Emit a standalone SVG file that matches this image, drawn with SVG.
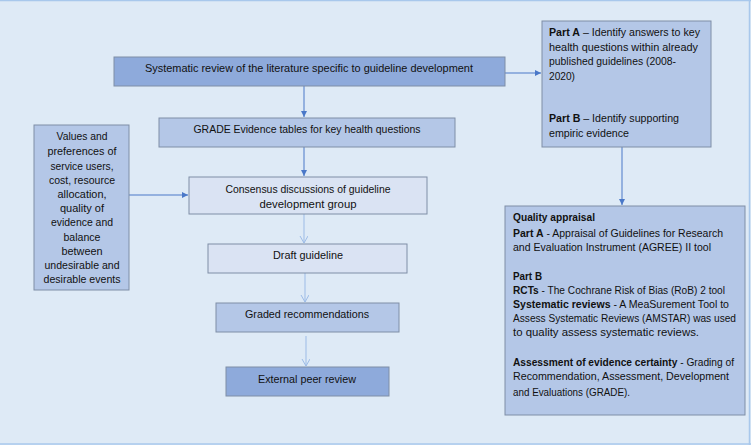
<svg xmlns="http://www.w3.org/2000/svg" width="751" height="445" viewBox="0 0 751 445">
<style>
.bg{fill:#deeaf6}
.box{stroke:#7f8ea6;stroke-width:1}
.dark{fill:#8eaadb}
.mid{fill:#b4c7e7}
.light{fill:#dae3f3}
text{font-family:"Liberation Sans",Arial,sans-serif;font-size:11.5px;fill:#111}
.c{text-anchor:middle}
.b{font-weight:bold}
.ln{stroke:#4a78c8;stroke-width:1;fill:none}
.lt{stroke:#9cbbe6;stroke-width:1;fill:none}
</style>
<defs>
<marker id="ah" markerWidth="8" markerHeight="8" refX="6" refY="3" orient="auto" markerUnits="userSpaceOnUse">
<path d="M0,0 L6,3 L0,6 Z" fill="#4a78c8"/>
</marker>
<marker id="av" markerWidth="10" markerHeight="10" refX="7" refY="4" orient="auto" markerUnits="userSpaceOnUse">
<path d="M0,0 L7,4 L0,8" fill="none" stroke="#9cbbe6" stroke-width="1"/>
</marker>
</defs>
<rect class="bg" x="0" y="0" width="751" height="445"/>
<line x1="0" y1="0.5" x2="751" y2="0.5" stroke="#a8c8ec" stroke-width="1.5"/>
<line x1="0" y1="444" x2="751" y2="444" stroke="#a8c8ec" stroke-width="1.5"/>
<line x1="749.5" y1="0" x2="749.5" y2="445" stroke="#a8c8ec" stroke-width="1.5"/>

<g id="connectors">
<line class="ln" x1="505" y1="73" x2="541" y2="73" marker-end="url(#ah)"/>
<line class="ln" x1="304" y1="86" x2="304" y2="117" marker-end="url(#ah)"/>
<line class="ln" x1="304" y1="147" x2="304" y2="176" marker-end="url(#ah)"/>
<line class="ln" x1="129" y1="195" x2="188" y2="195" marker-end="url(#ah)"/>
<line class="ln" x1="622" y1="147" x2="622" y2="205" marker-end="url(#ah)"/>
<line class="lt" x1="304" y1="214" x2="304" y2="243" marker-end="url(#av)"/>
<line class="lt" x1="305" y1="273" x2="305" y2="302" marker-end="url(#av)"/>
<line class="lt" x1="306" y1="336" x2="306" y2="366" marker-end="url(#av)"/>
</g>

<g id="systematic-review">
<rect class="box dark" x="114" y="57" width="391" height="29"/>
<text class="c" x="309" y="72" textLength="328" lengthAdjust="spacingAndGlyphs">Systematic review of the literature specific to guideline development</text>
</g>

<g id="grade-tables">
<rect class="box mid" x="159" y="118" width="296" height="29"/>
<text class="c" x="307" y="133" textLength="227" lengthAdjust="spacingAndGlyphs">GRADE Evidence tables for key health questions</text>
</g>

<g id="consensus">
<rect class="box light" x="189" y="177" width="238" height="37"/>
<text class="c" x="308" y="193" textLength="165" lengthAdjust="spacingAndGlyphs">Consensus discussions of guideline</text>
<text class="c" x="308" y="207.5" textLength="97" lengthAdjust="spacingAndGlyphs">development group</text>
</g>

<g id="values">
<rect class="box mid" x="34" y="125" width="95" height="165"/>
<text class="c" x="82" y="140" textLength="51" lengthAdjust="spacingAndGlyphs">Values and</text>
<text class="c" x="82" y="155" textLength="69" lengthAdjust="spacingAndGlyphs">preferences of</text>
<text class="c" x="82" y="169.5" textLength="63" lengthAdjust="spacingAndGlyphs">service users,</text>
<text class="c" x="82" y="184" textLength="66" lengthAdjust="spacingAndGlyphs">cost, resource</text>
<text class="c" x="82" y="198" textLength="49" lengthAdjust="spacingAndGlyphs">allocation,</text>
<text class="c" x="82" y="212" textLength="44" lengthAdjust="spacingAndGlyphs">quality of</text>
<text class="c" x="82" y="226" textLength="62" lengthAdjust="spacingAndGlyphs">evidence and</text>
<text class="c" x="82" y="240.5" textLength="37" lengthAdjust="spacingAndGlyphs">balance</text>
<text class="c" x="82" y="255" textLength="41" lengthAdjust="spacingAndGlyphs">between</text>
<text class="c" x="82" y="269" textLength="75" lengthAdjust="spacingAndGlyphs">undesirable and</text>
<text class="c" x="82" y="283" textLength="77" lengthAdjust="spacingAndGlyphs">desirable events</text>
</g>

<g id="draft">
<rect class="box light" x="208" y="244" width="199" height="29"/>
<text class="c" x="308" y="258.5" textLength="70" lengthAdjust="spacingAndGlyphs">Draft guideline</text>
</g>

<g id="graded">
<rect class="box mid" x="216" y="303" width="183" height="29"/>
<text class="c" x="307" y="318" textLength="124" lengthAdjust="spacingAndGlyphs">Graded recommendations</text>
</g>

<g id="external">
<rect class="box dark" x="226" y="367" width="163" height="29"/>
<text class="c" x="307" y="383" textLength="98" lengthAdjust="spacingAndGlyphs">External peer review</text>
</g>

<g id="part-ab">
<rect class="box mid" x="542" y="21" width="169" height="126"/>
<text x="549" y="36" textLength="151" lengthAdjust="spacingAndGlyphs"><tspan class="b">Part A</tspan> – Identify answers to key</text>
<text x="549" y="50.5" textLength="149" lengthAdjust="spacingAndGlyphs">health questions within already</text>
<text x="549" y="65" textLength="127" lengthAdjust="spacingAndGlyphs">published guidelines (2008-</text>
<text x="549" y="79.5" textLength="26" lengthAdjust="spacingAndGlyphs">2020)</text>
<text x="549" y="122" textLength="130" lengthAdjust="spacingAndGlyphs"><tspan class="b">Part B</tspan> – Identify supporting</text>
<text x="549" y="136.5" textLength="80" lengthAdjust="spacingAndGlyphs">empiric evidence</text>
</g>

<g id="quality">
<rect class="box mid" x="505" y="206" width="240" height="209"/>
<text x="513" y="221" class="b" textLength="82" lengthAdjust="spacingAndGlyphs">Quality appraisal</text>
<text x="513" y="237" textLength="210" lengthAdjust="spacingAndGlyphs"><tspan class="b">Part A</tspan> - Appraisal of Guidelines for Research</text>
<text x="513" y="251" textLength="198" lengthAdjust="spacingAndGlyphs">and Evaluation Instrument (AGREE) II tool</text>
<text x="513" y="280" class="b" textLength="29" lengthAdjust="spacingAndGlyphs">Part B</text>
<text x="513" y="294" textLength="212" lengthAdjust="spacingAndGlyphs"><tspan class="b">RCTs</tspan> - The Cochrane Risk of Bias (RoB) 2 tool</text>
<text x="513" y="308" textLength="216" lengthAdjust="spacingAndGlyphs"><tspan class="b">Systematic reviews</tspan> - A MeaSurement Tool to</text>
<text x="513" y="322" textLength="223" lengthAdjust="spacingAndGlyphs">Assess Systematic Reviews (AMSTAR) was used</text>
<text x="513" y="336" textLength="186" lengthAdjust="spacingAndGlyphs">to quality assess systematic reviews.</text>
<text x="513" y="366" textLength="221" lengthAdjust="spacingAndGlyphs"><tspan class="b">Assessment of evidence certainty</tspan> - Grading of</text>
<text x="513" y="380" textLength="216" lengthAdjust="spacingAndGlyphs">Recommendation, Assessment, Development</text>
<text x="513" y="396" textLength="117" lengthAdjust="spacingAndGlyphs">and Evaluations (GRADE).</text>
</g>
</svg>
